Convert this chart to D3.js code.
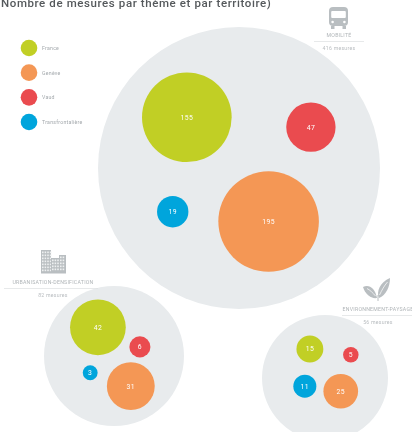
<!DOCTYPE html>
<html>
<head>
<meta charset="utf-8">
<script src="https://cdn.jsdelivr.net/npm/d3@7"></script>
<style>
  html, body { margin: 0; padding: 0; background: #fff; overflow: hidden; }
  svg { display: block; font-family: Roboto, sans-serif; filter: blur(0.35px); }
</style>
</head>
<body>
<div id="graph-wrapper"></div>
<script>
const territories = ['France', 'Genève', 'Vaud', 'Transfrontalière'];
const colors = ['#c1cf25', '#f49755', '#ea4b4f', '#00a5dc'];

const themes = ['MOBILITÉ', 'URBANISATION-DENSIFICATION', 'ENVIRONNEMENT-PAYSAGE'];
const totals = [416, 82, 56];
const mobilite = [155, 195, 47, 19];
const urbanisation = [42, 31, 6, 3];
const environnement = [15, 25, 5, 11];

const width = 412;
const height = 432;

// Layout only: panel centre + radius, and bubble centres as fractions of the panel radius
const panels = [
  { values: mobilite, cx: 239, cy: 168, r: 141, k: 3.6,
    at: [[-0.37, -0.36], [0.21, 0.38], [0.51, -0.29], [-0.47, 0.31]] },
  { values: urbanisation, cx: 114, cy: 356, r: 70, k: 4.3,
    at: [[-0.23, -0.41], [0.24, 0.43], [0.37, -0.13], [-0.34, 0.24]] },
  { values: environnement, cx: 325, cy: 378, r: 63, k: 3.47,
    at: [[-0.24, -0.46], [0.25, 0.21], [0.41, -0.37], [-0.32, 0.13]] }
];

const svg = d3.select('#graph-wrapper').append('svg')
  .attr('width', width)
  .attr('height', height);

svg.append('text')
  .attr('x', 1)
  .attr('y', 7)
  .attr('font-size', 11.5)
  .attr('font-weight', 500)
  .attr('letter-spacing', 0.6)
  .attr('fill', '#55595c')
  .text('Nombre de mesures par thème et par territoire)');

// Legend
const legendY = d3.scalePoint().domain(territories).range([48, 122]);
const legend = svg.append('g');
legend.selectAll('circle')
  .data(territories)
  .enter().append('circle')
  .attr('cx', 29)
  .attr('cy', d => legendY(d))
  .attr('r', 8.3)
  .attr('fill', (d, i) => colors[i]);
legend.selectAll('text')
  .data(territories)
  .enter().append('text')
  .attr('x', 42)
  .attr('y', d => legendY(d) + 2)
  .attr('font-size', 5.2)
  .attr('letter-spacing', 0.25)
  .attr('fill', '#a4a9ad')
  .text(d => d);

// Panels and bubbles
panels.forEach(p => {
  const g = svg.append('g');
  const x = d3.scaleLinear([-1, 1], [p.cx - p.r, p.cx + p.r]);
  const y = d3.scaleLinear([-1, 1], [p.cy - p.r, p.cy + p.r]);
  const size = d3.scaleSqrt([0, 1], [0, p.k]);

  g.append('circle')
    .attr('cx', p.cx)
    .attr('cy', p.cy)
    .attr('r', p.r)
    .attr('fill', '#e8ebed');

  const bubble = g.selectAll('g')
    .data(p.values)
    .enter().append('g')
    .attr('transform', (d, i) => `translate(${x(p.at[i][0])}, ${y(p.at[i][1])})`);
  bubble.append('circle')
    .attr('r', d => size(d))
    .attr('fill', (d, i) => colors[i]);
  bubble.append('text')
    .attr('text-anchor', 'middle')
    .attr('y', 2.4)
    .attr('font-size', 6.8)
    .attr('letter-spacing', 0.4)
    .attr('fill', '#fff')
    .text(d => d);
});

// Theme captions
const captions = [
  { cx: 339, y: 37, x0: 314, x1: 364 },
  { cx: 53, y: 284, x0: 4, x1: 98 },
  { cx: 378, y: 311, x0: 342, x1: 412 }
];
captions.forEach((c, i) => {
  const g = svg.append('g');
  g.append('text')
    .attr('x', c.cx)
    .attr('y', c.y)
    .attr('text-anchor', 'middle')
    .attr('font-size', 5.2)
    .attr('letter-spacing', 0.25)
    .attr('fill', '#b0b5b8')
    .text(themes[i]);
  g.append('line')
    .attr('x1', c.x0)
    .attr('x2', c.x1)
    .attr('y1', c.y + 4.5)
    .attr('y2', c.y + 4.5)
    .attr('stroke', '#dcdfe1')
    .attr('stroke-width', 0.7);
  g.append('text')
    .attr('x', c.cx)
    .attr('y', c.y + 13)
    .attr('text-anchor', 'middle')
    .attr('font-size', 5.2)
    .attr('letter-spacing', 0.25)
    .attr('fill', '#b9bdc0')
    .text(`${totals[i]} mesures`);
});

// Icons
const iconColor = '#b9bec1';

// bus
const bus = svg.append('g').attr('transform', 'translate(329, 7)');
bus.append('rect').attr('width', 19).attr('height', 19).attr('rx', 4).attr('fill', iconColor);
bus.append('rect').attr('x', 2.2).attr('y', 4).attr('width', 14.6).attr('height', 7).attr('rx', 1).attr('fill', '#fff');
bus.append('circle').attr('cx', 3.6).attr('cy', 15).attr('r', 1.3).attr('fill', '#fff');
bus.append('circle').attr('cx', 15.4).attr('cy', 15).attr('r', 1.3).attr('fill', '#fff');
bus.append('rect').attr('x', 2).attr('y', 19).attr('width', 3.5).attr('height', 3).attr('fill', iconColor);
bus.append('rect').attr('x', 13.5).attr('y', 19).attr('width', 3.5).attr('height', 3).attr('fill', iconColor);

// buildings
const city = svg.append('g').attr('transform', 'translate(41, 250)');
const blocks = [[0, 0, 10, 23.5], [10, 8, 8, 15.5], [18, 5, 7, 18.5]];
blocks.forEach(b => {
  city.append('rect').attr('x', b[0]).attr('y', b[1]).attr('width', b[2]).attr('height', b[3]).attr('fill', iconColor);
  d3.range(b[1] + 1.5, 21.5, 3).forEach(wy => {
    d3.range(b[0] + 1, b[0] + b[2] - 1, 2.6).forEach(wx => {
      city.append('rect').attr('x', wx).attr('y', wy).attr('width', 1.6).attr('height', 1.7).attr('fill', '#eef0f1');
    });
  });
});

// plant
const plant = svg.append('g').attr('transform', 'translate(372, 278)');
plant.append('path').attr('fill', iconColor)
  .attr('d', 'M18 0 C18 9 14 17 7 20 C4 14 8 4 18 0 Z');
plant.append('path').attr('fill', iconColor)
  .attr('d', 'M-9 9 C-3 6 3 10 5 20 C-1 21 -7 16 -9 9 Z');
plant.append('path').attr('fill', 'none').attr('stroke', iconColor).attr('stroke-width', 1)
  .attr('d', 'M6 17 L6 23');
plant.append('path').attr('fill', 'none').attr('stroke', '#fff').attr('stroke-width', 0.7)
  .attr('d', 'M7.5 17 C10 12 12 8 15.5 4');
plant.append('path').attr('fill', 'none').attr('stroke', '#fff').attr('stroke-width', 0.7)
  .attr('d', 'M-5 10.5 C-2 12 1 15 3.5 18');
</script>
</body>
</html>
